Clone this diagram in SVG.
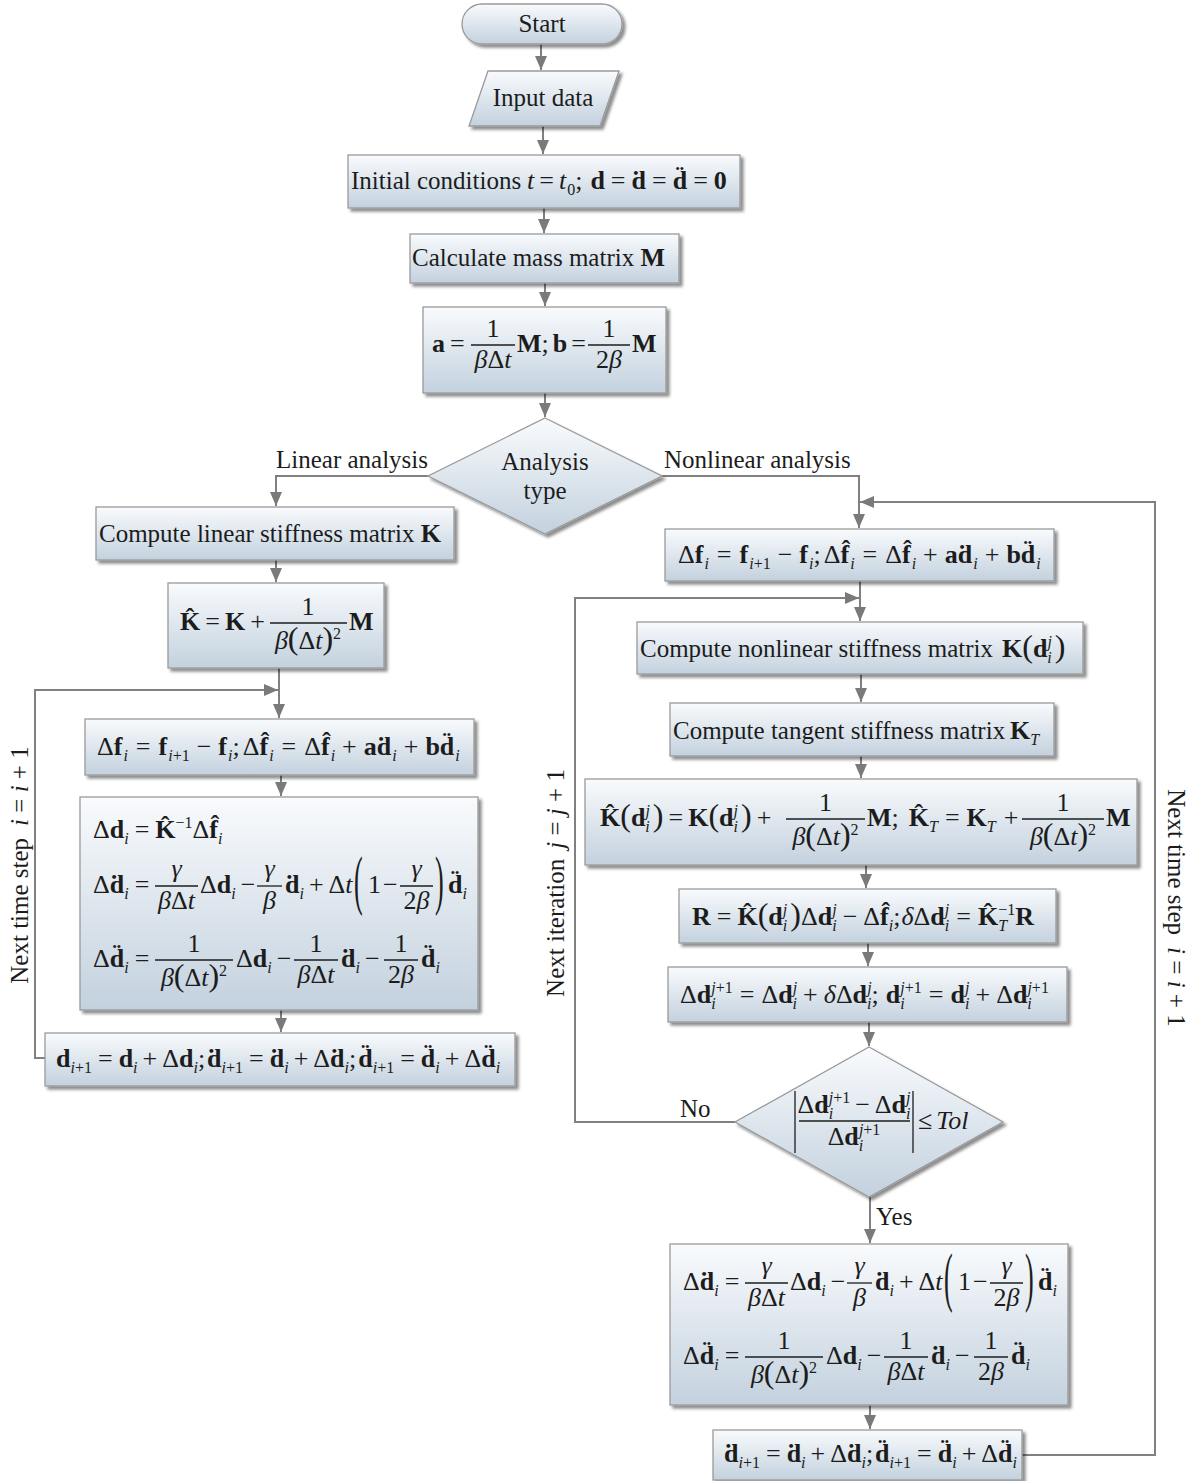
<svg xmlns="http://www.w3.org/2000/svg" width="1197" height="1481" viewBox="0 0 1197 1481">
<defs>
<linearGradient id="gb" x1="0" y1="0" x2="0" y2="1">
<stop offset="0" stop-color="#f9fbfd"/><stop offset="1" stop-color="#c3d1de"/>
</linearGradient>
<filter id="sh" x="-10%" y="-10%" width="125%" height="135%">
<feDropShadow dx="3" dy="3" stdDeviation="1.5" flood-color="#000" flood-opacity="0.45"/>
</filter>
<marker id="ah" viewBox="0 0 14 12" refX="14" refY="6" markerWidth="7" markerHeight="6" orient="auto">
<path d="M0,0 L14,6 L0,12 z" fill="#7a7a7a"/>
</marker>
<style>
.box{fill:url(#gb);stroke:#9a9a9a;stroke-width:1.3;filter:url(#sh)}
.cn{fill:none;stroke:#808080;stroke-width:2}
.cn path{marker-end:url(#ah)}
text{font-family:"Liberation Serif","Times New Roman",serif;fill:#1c1c1c}
.L{font-size:25px}
.m{font-size:26px}
.b{font-weight:bold}
.i{font-style:italic}
.sb{font-size:16px;baseline-shift:-6px}
.sp{font-size:16px;baseline-shift:10px}
.p{font-size:32px}
.fb{stroke:#1c1c1c;stroke-width:1.3}
</style>
</defs>
<rect width="1197" height="1481" fill="#ffffff"/>

<g id="connectors" class="cn">
<path d="M541,44 V70"/>
<path d="M543,126 V154"/>
<path d="M544,208 V233"/>
<path d="M545,283 V306"/>
<path d="M545,393 V417"/>
<path d="M428,476 H276 V506"/>
<path d="M662,476 H859 V528"/>
<path d="M276,560 V582"/>
<path d="M279,668 V718"/>
<path d="M45,1058 H35 V690 H278"/>
<path d="M281,775 V796"/>
<path d="M281,1010 V1032"/>
<path d="M860,581 V621"/>
<path d="M735,1122 H575 V598 H859"/>
<path d="M861,674 V702"/>
<path d="M861,756 V778"/>
<path d="M866,865 V888"/>
<path d="M868,943 V966"/>
<path d="M869,1022 V1046"/>
<path d="M870,1197 V1243"/>
<path d="M870,1405 V1429"/>
<path d="M1022,1455 H1155 V502 H860"/>
</g>

<g id="start"><rect class="box" x="462" y="4" width="160" height="40" rx="20"/><text class="L" x="542" y="32" text-anchor="middle">Start</text></g>

<g id="input"><polygon class="box" points="488,71 619,71 600,126 469,126"/><text class="L" x="543" y="106" text-anchor="middle">Input data</text></g>

<g id="init"><rect class="box" x="348" y="155" width="392" height="53"/><text class="L" x="351" y="189" font-size="24">Initial conditions</text><text class="m" x="527" y="189"><tspan class="i">t</tspan><tspan dx="5">=</tspan><tspan class="i" dx="5">t</tspan><tspan class="sb" dx="1">0</tspan>;<tspan class="b" dx="8">d</tspan><tspan dx="6">=</tspan><tspan class="b" dx="6">d&#x307;</tspan><tspan dx="6">=</tspan><tspan class="b" dx="6">d&#x308;</tspan><tspan dx="6">=</tspan><tspan class="b" dx="6">0</tspan></text></g>

<g id="calcM"><rect class="box" x="410" y="234" width="269" height="49"/><text class="L" x="412" y="266">Calculate mass matrix <tspan class="b" font-size="26">M</tspan></text></g>

<g id="ab"><rect class="box" x="423" y="307" width="243" height="86"/>
<text class="m" x="432" y="352"><tspan class="b">a</tspan><tspan dx="5">=</tspan></text>
<line class="fb" x1="471" y1="345" x2="515" y2="345"/>
<text class="m" x="493" y="337" text-anchor="middle">1</text>
<text class="m" x="493" y="368" text-anchor="middle"><tspan class="i">β</tspan>Δ<tspan class="i">t</tspan></text>
<text class="m" x="517" y="352"><tspan class="b">M</tspan>;<tspan class="b" dx="4">b</tspan><tspan dx="4">=</tspan></text>
<line class="fb" x1="588" y1="345" x2="630" y2="345"/>
<text class="m" x="609" y="337" text-anchor="middle">1</text>
<text class="m" x="609" y="368" text-anchor="middle">2<tspan class="i">β</tspan></text>
<text class="m b" x="632" y="352">M</text></g>

<g id="type"><polygon class="box" points="545,418 662,476 545,534 428,476"/><text class="L" x="545" y="470" text-anchor="middle">Analysis</text><text class="L" x="545" y="499" text-anchor="middle">type</text></g>

<g id="linK"><rect class="box" x="96" y="507" width="358" height="53"/><text class="L" x="99" y="542">Compute linear stiffness matrix <tspan class="b" font-size="26">K</tspan></text></g>

<g id="khat"><rect class="box" x="168" y="583" width="216" height="85"/>
<text class="m" x="180" y="630"><tspan class="b">K&#x302;</tspan><tspan dx="5">=</tspan><tspan class="b" dx="5">K</tspan><tspan dx="5">+</tspan></text>
<line class="fb" x1="270" y1="623" x2="347" y2="623"/>
<text class="m" x="308" y="615" text-anchor="middle">1</text>
<text class="m" x="308" y="649" text-anchor="middle"><tspan class="i">β</tspan><tspan class="p">(</tspan>Δ<tspan class="i">t</tspan><tspan class="p">)</tspan><tspan class="sp">2</tspan></text>
<text class="m b" x="349" y="630">M</text></g>

<g id="dfL"><rect class="box" x="85" y="719" width="389" height="56"/>
<text class="m" x="97" y="755">Δ<tspan class="b">f</tspan><tspan class="sb i" dx="1">i</tspan><tspan dx="8">=</tspan><tspan class="b" dx="8">f</tspan><tspan class="sb" dx="1"><tspan class="i">i</tspan>+1</tspan><tspan dx="7">−</tspan><tspan class="b" dx="7">f</tspan><tspan class="sb i" dx="1">i</tspan>;<tspan dx="3">Δ</tspan><tspan class="b">f&#x302;</tspan><tspan class="sb i" dx="1">i</tspan><tspan dx="8">=</tspan><tspan dx="8">Δ</tspan><tspan class="b">f&#x302;</tspan><tspan class="sb i" dx="1">i</tspan><tspan dx="7">+</tspan><tspan class="b" dx="7">ad&#x307;</tspan><tspan class="sb i" dx="1">i</tspan><tspan dx="7">+</tspan><tspan class="b" dx="7">bd&#x308;</tspan><tspan class="sb i" dx="1">i</tspan></text></g>

<g id="solveL"><rect class="box" x="80" y="797" width="398" height="213"/>
<text class="m" x="93" y="838">Δ<tspan class="b">d</tspan><tspan class="sb i">i</tspan><tspan dx="6">=</tspan><tspan class="b" dx="6">K&#x302;</tspan><tspan class="sp">−1</tspan>Δ<tspan class="b">f&#x302;</tspan><tspan class="sb i">i</tspan></text>
<text class="m" x="93" y="893">Δ<tspan class="b">d&#x307;</tspan><tspan class="sb i">i</tspan><tspan dx="6">=</tspan></text>
<line class="fb" x1="155" y1="886" x2="198" y2="886"/>
<text class="m i" x="176.5" y="877" text-anchor="middle">γ</text>
<text class="m" x="176.5" y="909" text-anchor="middle"><tspan class="i">β</tspan>Δ<tspan class="i">t</tspan></text>
<text class="m" x="200" y="893">Δ<tspan class="b">d</tspan><tspan class="sb i">i</tspan><tspan dx="5">−</tspan></text>
<line class="fb" x1="257" y1="886" x2="282" y2="886"/>
<text class="m i" x="269.5" y="877" text-anchor="middle">γ</text>
<text class="m i" x="269.5" y="909" text-anchor="middle">β</text>
<text class="m" x="285" y="893"><tspan class="b">d&#x307;</tspan><tspan class="sb i">i</tspan><tspan dx="5">+</tspan><tspan dx="5">Δ</tspan><tspan class="i">t</tspan></text>
<text class="m" transform="translate(354,886) scale(1,2.5)" x="0" y="6.2">(</text>
<text class="m" x="368" y="893">1<tspan dx="2">−</tspan></text>
<line class="fb" x1="400" y1="886" x2="433" y2="886"/>
<text class="m i" x="416.5" y="877" text-anchor="middle">γ</text>
<text class="m" x="416.5" y="909" text-anchor="middle">2<tspan class="i">β</tspan></text>
<text class="m" transform="translate(435,886) scale(1,2.5)" x="0" y="6.2">)</text>
<text class="m" x="448" y="893"><tspan class="b">d&#x308;</tspan><tspan class="sb i">i</tspan></text>
<text class="m" x="93" y="967">Δ<tspan class="b">d&#x308;</tspan><tspan class="sb i">i</tspan><tspan dx="6">=</tspan></text>
<line class="fb" x1="155" y1="960" x2="233" y2="960"/>
<text class="m" x="194" y="952" text-anchor="middle">1</text>
<text class="m" x="194" y="986" text-anchor="middle"><tspan class="i">β</tspan><tspan class="p">(</tspan>Δ<tspan class="i">t</tspan><tspan class="p">)</tspan><tspan class="sp">2</tspan></text>
<text class="m" x="236" y="967">Δ<tspan class="b">d</tspan><tspan class="sb i">i</tspan><tspan dx="5">−</tspan></text>
<line class="fb" x1="294" y1="960" x2="338" y2="960"/>
<text class="m" x="316" y="952" text-anchor="middle">1</text>
<text class="m" x="316" y="983" text-anchor="middle"><tspan class="i">β</tspan>Δ<tspan class="i">t</tspan></text>
<text class="m" x="341" y="967"><tspan class="b">d&#x307;</tspan><tspan class="sb i">i</tspan><tspan dx="5">−</tspan></text>
<line class="fb" x1="384" y1="960" x2="418" y2="960"/>
<text class="m" x="401" y="952" text-anchor="middle">1</text>
<text class="m" x="401" y="983" text-anchor="middle">2<tspan class="i">β</tspan></text>
<text class="m" x="421" y="967"><tspan class="b">d&#x308;</tspan><tspan class="sb i">i</tspan></text>
</g>

<g id="updL"><rect class="box" x="45" y="1033" width="470" height="53"/>
<text class="m" x="56" y="1067"><tspan class="b">d</tspan><tspan class="sb"><tspan class="i">i</tspan>+1</tspan><tspan dx="6">=</tspan><tspan class="b" dx="6">d</tspan><tspan class="sb i">i</tspan><tspan dx="5">+</tspan><tspan dx="5">Δ</tspan><tspan class="b">d</tspan><tspan class="sb i">i</tspan>;<tspan class="b" dx="2">d&#x307;</tspan><tspan class="sb"><tspan class="i">i</tspan>+1</tspan><tspan dx="6">=</tspan><tspan class="b" dx="6">d&#x307;</tspan><tspan class="sb i">i</tspan><tspan dx="5">+</tspan><tspan dx="5">Δ</tspan><tspan class="b">d&#x307;</tspan><tspan class="sb i">i</tspan>;<tspan class="b" dx="2">d&#x308;</tspan><tspan class="sb"><tspan class="i">i</tspan>+1</tspan><tspan dx="6">=</tspan><tspan class="b" dx="6">d&#x308;</tspan><tspan class="sb i">i</tspan><tspan dx="5">+</tspan><tspan dx="5">Δ</tspan><tspan class="b">d&#x308;</tspan><tspan class="sb i">i</tspan></text></g>

<g id="dfR"><rect class="box" x="665" y="529" width="389" height="52"/>
<text class="m" x="678" y="563">Δ<tspan class="b">f</tspan><tspan class="sb i" dx="1">i</tspan><tspan dx="8">=</tspan><tspan class="b" dx="8">f</tspan><tspan class="sb" dx="1"><tspan class="i">i</tspan>+1</tspan><tspan dx="7">−</tspan><tspan class="b" dx="7">f</tspan><tspan class="sb i" dx="1">i</tspan>;<tspan dx="3">Δ</tspan><tspan class="b">f&#x302;</tspan><tspan class="sb i" dx="1">i</tspan><tspan dx="8">=</tspan><tspan dx="8">Δ</tspan><tspan class="b">f&#x302;</tspan><tspan class="sb i" dx="1">i</tspan><tspan dx="7">+</tspan><tspan class="b" dx="7">ad&#x307;</tspan><tspan class="sb i" dx="1">i</tspan><tspan dx="7">+</tspan><tspan class="b" dx="7">bd&#x308;</tspan><tspan class="sb i" dx="1">i</tspan></text></g>

<g id="nlK"><rect class="box" x="637" y="622" width="446" height="52"/>
<text class="L" x="640" y="657">Compute nonlinear stiffness matrix</text>
<text class="m" x="1002" y="657"><tspan class="b">K</tspan><tspan class="p">(</tspan><tspan class="b">d</tspan><tspan class="sb i">i</tspan><tspan class="sp i" dx="-4.4">j</tspan><tspan class="p" dx="3">)</tspan></text></g>

<g id="tanK"><rect class="box" x="670" y="703" width="384" height="53"/>
<text class="L" x="673" y="739">Compute tangent stiffness matrix</text>
<text class="m" x="1010" y="739"><tspan class="b">K</tspan><tspan class="sb i">T</tspan></text></g>

<g id="khatNL"><rect class="box" x="585" y="779" width="552" height="86"/>
<text class="m" x="600" y="826"><tspan class="b">K&#x302;</tspan><tspan class="p">(</tspan><tspan class="b">d</tspan><tspan class="sb i">i</tspan><tspan class="sp i" dx="-4.4">j</tspan><tspan class="p" dx="3">)</tspan><tspan dx="5">=</tspan><tspan class="b" dx="5">K</tspan><tspan class="p">(</tspan><tspan class="b">d</tspan><tspan class="sb i">i</tspan><tspan class="sp i" dx="-4.4">j</tspan><tspan class="p" dx="3">)</tspan><tspan dx="5">+</tspan></text>
<line class="fb" x1="786" y1="819" x2="865" y2="819"/>
<text class="m" x="825.5" y="811" text-anchor="middle">1</text>
<text class="m" x="825.5" y="845" text-anchor="middle"><tspan class="i">β</tspan><tspan class="p">(</tspan>Δ<tspan class="i">t</tspan><tspan class="p">)</tspan><tspan class="sp">2</tspan></text>
<text class="m" x="867" y="826"><tspan class="b">M</tspan>;<tspan class="b" dx="10">K&#x302;</tspan><tspan class="sb i">T</tspan><tspan dx="7">=</tspan><tspan class="b" dx="7">K</tspan><tspan class="sb i">T</tspan><tspan dx="8">+</tspan></text>
<line class="fb" x1="1022" y1="819" x2="1104" y2="819"/>
<text class="m" x="1063" y="811" text-anchor="middle">1</text>
<text class="m" x="1063" y="845" text-anchor="middle"><tspan class="i">β</tspan><tspan class="p">(</tspan>Δ<tspan class="i">t</tspan><tspan class="p">)</tspan><tspan class="sp">2</tspan></text>
<text class="m b" x="1106" y="826">M</text></g>

<g id="resid"><rect class="box" x="679" y="889" width="377" height="54"/>
<text class="m" x="692" y="925"><tspan class="b">R</tspan><tspan dx="6">=</tspan><tspan class="b" dx="6">K&#x302;</tspan><tspan class="p">(</tspan><tspan class="b">d</tspan><tspan class="sb i">i</tspan><tspan class="sp i" dx="-4.4">j</tspan><tspan class="p" dx="3">)</tspan>Δ<tspan class="b">d</tspan><tspan class="sb i">i</tspan><tspan class="sp i" dx="-4.4">j</tspan><tspan dx="6">−</tspan><tspan dx="6">Δ</tspan><tspan class="b">f&#x302;</tspan><tspan class="sb i">i</tspan>;<tspan class="i" dx="1">δ</tspan>Δ<tspan class="b">d</tspan><tspan class="sb i">i</tspan><tspan class="sp i" dx="-4.4">j</tspan><tspan dx="7">=</tspan><tspan class="b" dx="7">K&#x302;</tspan><tspan class="sb i">T</tspan><tspan class="sp" dx="-8.9">−1</tspan><tspan class="b">R</tspan></text></g>

<g id="incr"><rect class="box" x="668" y="967" width="399" height="55"/>
<text class="m" x="680" y="1003">Δ<tspan class="b">d</tspan><tspan class="sb i">i</tspan><tspan class="sp" dx="-4.4"><tspan class="i">j</tspan>+1</tspan><tspan dx="7">=</tspan><tspan dx="7">Δ</tspan><tspan class="b">d</tspan><tspan class="sb i">i</tspan><tspan class="sp i" dx="-4.4">j</tspan><tspan dx="6">+</tspan><tspan class="i" dx="6">δ</tspan>Δ<tspan class="b">d</tspan><tspan class="sb i">i</tspan><tspan class="sp i" dx="-4.4">j</tspan>;<tspan class="b" dx="7">d</tspan><tspan class="sb i">i</tspan><tspan class="sp" dx="-4.4"><tspan class="i">j</tspan>+1</tspan><tspan dx="7">=</tspan><tspan class="b" dx="7">d</tspan><tspan class="sb i">i</tspan><tspan class="sp i" dx="-4.4">j</tspan><tspan dx="6">+</tspan><tspan dx="6">Δ</tspan><tspan class="b">d</tspan><tspan class="sb i">i</tspan><tspan class="sp" dx="-4.4"><tspan class="i">j</tspan>+1</tspan></text></g>

<g id="conv"><polygon class="box" points="869,1047 1003,1122 869,1197 735,1122"/>
<line class="fb" x1="795" y1="1091" x2="795" y2="1153"/>
<line class="fb" x1="913" y1="1091" x2="913" y2="1153"/>
<line class="fb" x1="799" y1="1121" x2="910" y2="1121"/>
<text class="m" x="854" y="1113" text-anchor="middle">Δ<tspan class="b">d</tspan><tspan class="sb i">i</tspan><tspan class="sp" dx="-4.4"><tspan class="i">j</tspan>+1</tspan><tspan dx="5">−</tspan><tspan dx="5">Δ</tspan><tspan class="b">d</tspan><tspan class="sb i">i</tspan><tspan class="sp i" dx="-4.4">j</tspan></text>
<text class="m" x="854" y="1145" text-anchor="middle">Δ<tspan class="b">d</tspan><tspan class="sb i">i</tspan><tspan class="sp" dx="-4.4"><tspan class="i">j</tspan>+1</tspan></text>
<text class="m" x="918" y="1129">≤<tspan class="i" dx="4">Tol</tspan></text></g>

<g id="solveR"><rect class="box" x="670" y="1244" width="398" height="161"/>
<g transform="translate(590,397)">
<text class="m" x="93" y="893">Δ<tspan class="b">d&#x307;</tspan><tspan class="sb i">i</tspan><tspan dx="6">=</tspan></text>
<line class="fb" x1="155" y1="886" x2="198" y2="886"/>
<text class="m i" x="176.5" y="877" text-anchor="middle">γ</text>
<text class="m" x="176.5" y="909" text-anchor="middle"><tspan class="i">β</tspan>Δ<tspan class="i">t</tspan></text>
<text class="m" x="200" y="893">Δ<tspan class="b">d</tspan><tspan class="sb i">i</tspan><tspan dx="5">−</tspan></text>
<line class="fb" x1="257" y1="886" x2="282" y2="886"/>
<text class="m i" x="269.5" y="877" text-anchor="middle">γ</text>
<text class="m i" x="269.5" y="909" text-anchor="middle">β</text>
<text class="m" x="285" y="893"><tspan class="b">d&#x307;</tspan><tspan class="sb i">i</tspan><tspan dx="5">+</tspan><tspan dx="5">Δ</tspan><tspan class="i">t</tspan></text>
<text class="m" transform="translate(354,886) scale(1,2.5)" x="0" y="6.2">(</text>
<text class="m" x="368" y="893">1<tspan dx="2">−</tspan></text>
<line class="fb" x1="400" y1="886" x2="433" y2="886"/>
<text class="m i" x="416.5" y="877" text-anchor="middle">γ</text>
<text class="m" x="416.5" y="909" text-anchor="middle">2<tspan class="i">β</tspan></text>
<text class="m" transform="translate(435,886) scale(1,2.5)" x="0" y="6.2">)</text>
<text class="m" x="448" y="893"><tspan class="b">d&#x308;</tspan><tspan class="sb i">i</tspan></text>
<text class="m" x="93" y="967">Δ<tspan class="b">d&#x308;</tspan><tspan class="sb i">i</tspan><tspan dx="6">=</tspan></text>
<line class="fb" x1="155" y1="960" x2="233" y2="960"/>
<text class="m" x="194" y="952" text-anchor="middle">1</text>
<text class="m" x="194" y="986" text-anchor="middle"><tspan class="i">β</tspan><tspan class="p">(</tspan>Δ<tspan class="i">t</tspan><tspan class="p">)</tspan><tspan class="sp">2</tspan></text>
<text class="m" x="236" y="967">Δ<tspan class="b">d</tspan><tspan class="sb i">i</tspan><tspan dx="5">−</tspan></text>
<line class="fb" x1="294" y1="960" x2="338" y2="960"/>
<text class="m" x="316" y="952" text-anchor="middle">1</text>
<text class="m" x="316" y="983" text-anchor="middle"><tspan class="i">β</tspan>Δ<tspan class="i">t</tspan></text>
<text class="m" x="341" y="967"><tspan class="b">d&#x307;</tspan><tspan class="sb i">i</tspan><tspan dx="5">−</tspan></text>
<line class="fb" x1="384" y1="960" x2="418" y2="960"/>
<text class="m" x="401" y="952" text-anchor="middle">1</text>
<text class="m" x="401" y="983" text-anchor="middle">2<tspan class="i">β</tspan></text>
<text class="m" x="421" y="967"><tspan class="b">d&#x308;</tspan><tspan class="sb i">i</tspan></text>
</g></g>

<g id="updR"><rect class="box" x="713" y="1430" width="309" height="50"/>
<text class="m" x="724" y="1462"><tspan class="b">d&#x307;</tspan><tspan class="sb"><tspan class="i">i</tspan>+1</tspan><tspan dx="6">=</tspan><tspan class="b" dx="6">d&#x307;</tspan><tspan class="sb i">i</tspan><tspan dx="5">+</tspan><tspan dx="5">Δ</tspan><tspan class="b">d&#x307;</tspan><tspan class="sb i">i</tspan>;<tspan class="b" dx="2">d&#x308;</tspan><tspan class="sb"><tspan class="i">i</tspan>+1</tspan><tspan dx="6">=</tspan><tspan class="b" dx="6">d&#x308;</tspan><tspan class="sb i">i</tspan><tspan dx="5">+</tspan><tspan dx="5">Δ</tspan><tspan class="b">d&#x308;</tspan><tspan class="sb i">i</tspan></text></g>

<g id="labels">
<text class="L" x="276" y="468">Linear analysis</text>
<text class="L" x="664" y="468">Nonlinear analysis</text>
<text class="L" x="680" y="1117">No</text>
<text class="L" x="876" y="1225">Yes</text>
<text class="L" transform="translate(28,865) rotate(-90)" text-anchor="middle">Next time step<tspan class="i" dx="12">i</tspan> = <tspan class="i">i</tspan> + 1</text>
<text class="L" transform="translate(564,883) rotate(-90)" text-anchor="middle">Next iteration<tspan class="i" dx="10">j</tspan> = <tspan class="i">j</tspan> + 1</text>
<text class="L" transform="translate(1168,908) rotate(90)" text-anchor="middle">Next time step<tspan class="i" dx="12">i</tspan> = <tspan class="i">i</tspan> + 1</text>
</g>
</svg>
